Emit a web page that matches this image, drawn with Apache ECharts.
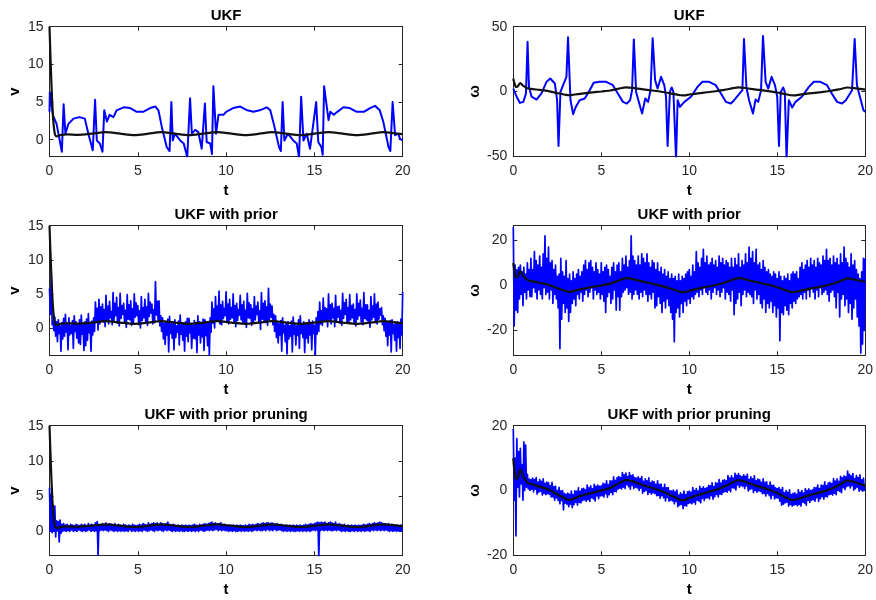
<!DOCTYPE html>
<html>
<head>
<meta charset="utf-8">
<script src="https://cdn.jsdelivr.net/npm/echarts@6/dist/echarts.min.js"></script>
<style>
  html, body { margin: 0; padding: 0; background: #fff; }
  #chart { width: 876px; height: 600px; }
</style>
</head>
<body>
<div id="chart"></div>
<script>
// tick labels
const xTicks = [0, 5, 10, 15, 20];
const vTicks = [0, 5, 10, 15];
const wTicksUkf = [-50, 0, 50];
const wTicksPrior = [-20, 0, 20];

// sample step of the noisy runs (rows 2 and 3)
const dt = 0.05;

// UKF, v (blue)
const tUkfV = [0, 0.02, 0.2, 0.4, 0.7, 0.8, 0.9, 1.07, 1.36, 1.7,
  2.0, 2.2, 2.45, 2.58, 2.68, 2.85, 3.0, 3.1, 3.25, 3.4,
  3.62, 3.8, 4.2, 4.57, 4.94, 5.3, 5.7, 6.0, 6.17, 6.36,
  6.64, 6.8, 6.9, 6.98, 7.1, 7.4, 7.6, 7.8, 7.96, 8.06,
  8.25, 8.43, 8.62, 8.8, 8.9, 9.1, 9.2, 9.28, 9.43, 9.57,
  9.85, 10.0, 10.4, 10.8, 11.2, 11.55, 11.9, 12.3, 12.5, 12.7,
  13.0, 13.1, 13.2, 13.3, 13.5, 13.8, 14.0, 14.13, 14.25, 14.38,
  14.57, 14.75, 15.1, 15.22, 15.4, 15.47, 15.55, 15.8, 15.9, 16.1,
  16.3, 16.64, 17.0, 17.4, 17.8, 18.15, 18.43, 18.7, 18.9, 19.2,
  19.3, 19.43, 19.57, 19.66, 19.75, 19.85, 20.0];
const vUkf = [3.7, 6.3, 3.2, 2.1, -1.6, 4.7, 0.8, 2.1, 2.8, 3.0,
  2.8, 0.8, -1.4, 5.3, -0.1, -0.5, -1.6, 3.9, 2.4, 3.3,
  3.0, 3.9, 4.3, 4.2, 3.7, 3.7, 4.2, 4.4, 3.9, 1.7,
  -1.0, -1.5, 5.0, -0.1, 0.8, -0.1, -0.5, -2.3, 5.5, 0.8,
  1.3, 1.0, -1.2, 4.8, -0.3, -0.5, -1.9, 7.1, 0.8, 3.3,
  3.3, 3.7, 4.2, 4.4, 3.9, 3.7, 3.9, 4.3, 3.9, 2.1,
  -1.0, -1.5, 5.0, -0.1, 0.8, -0.1, -0.5, -2.3, 5.7, -0.1,
  0.8, -1.2, 5.0, -0.3, -1.0, -2.0, 7.1, 2.6, 3.7, 3.3,
  3.7, 4.3, 4.2, 3.7, 3.7, 4.2, 4.5, 3.9, 2.4, -1.0,
  -1.5, 5.0, 0.6, 0.4, 0.8, 0.1, -0.1];

// UKF, omega (blue)
const tUkfW = [0, 0.19, 0.38, 0.57, 0.72, 0.81, 0.89, 1.04, 1.32, 1.6,
  1.89, 2.1, 2.36, 2.49, 2.57, 2.68, 2.87, 3.02, 3.11, 3.25,
  3.4, 3.55, 3.77, 4.06, 4.34, 4.57, 4.9, 5.28, 5.66, 5.94,
  6.23, 6.45, 6.64, 6.75, 6.85, 6.98, 7.13, 7.32, 7.5, 7.66,
  7.8, 7.92, 8.06, 8.2, 8.4, 8.58, 8.68, 8.77, 8.9, 9.0,
  9.1, 9.25, 9.34, 9.47, 9.72, 10.1, 10.47, 10.75, 11.13, 11.5,
  11.8, 12.08, 12.36, 12.55, 13.02, 13.11, 13.25, 13.4, 13.62, 13.77,
  13.92, 14.08, 14.19, 14.34, 14.49, 14.68, 14.87, 15.0, 15.1, 15.2,
  15.34, 15.43, 15.53, 15.66, 15.85, 16.04, 16.4, 16.8, 17.08, 17.45,
  17.83, 18.1, 18.4, 18.68, 18.9, 19.25, 19.4, 19.53, 19.7, 19.9,
  20.0];
const wUkf = [2.3, -4, -8.8, -8, -1.5, 38.4, 3.6, -4, -6.2, -1.5,
  7.5, 10, 6.2, -6.7, -42, -0.3, 6.2, 11.3, 41.8, -6.7,
  -17.5, -11.9, -6.7, -5.4, 1.0, 6.7, 7.5, 7.5, 4.9, -1.5,
  -8.0, -9.3, -6.7, 1.0, 40.2, -0.3, -8.0, -17.0, -5.4, -8,
  1, 41, 8.8, 2.3, 11.3, 4.9, -4, -42, -0.3, 3.1,
  -0.3, -52, -6.7, -11.9, -8, -4, 3.6, 7.5, 7.5, 4.9,
  -1.5, -8, -9.3, -6.7, 1, 40.5, 3.1, -6.7, -17, -6.2,
  -8, 1, 42.8, 7.5, 2.3, 11.3, 4.9, -4, -42, -0.3,
  3.1, -0.3, -52, -6.7, -12.4, -8, -4, 3.6, 7.5, 7.5,
  4.9, -1.5, -8, -9.3, -6.7, 1, 40.5, 4.9, -4, -14.4,
  -15.7];

// UKF with prior, v (blue), one value every dt, one line per second
const vPrior = [
  5.8, 2.0, 8.0, 0.5, 1.0, -0.4, 1.6, -1.2, 0.9, -2.0, 1.2, -0.8, 0.3, -3.4, 0.8, -1.6, 1.4, -1.2, 2.0, -0.6,
  0.7, -3.2, 1.5, -1.0, 0.4, -0.8, 1.1, -3.0, 1.8, -0.5, 0.9, -1.5, 0.6, -2.2, 1.2, -2.4, 1.9, -0.9, 0.5, -3.3,
  0.9, -2.6, 1.3, -1.8, 2.1, -0.7, 0.6, -3.4, 1.0, -1.0, 1.5, -0.5, 3.8, 0.9, 2.9, -0.3, 4.2, 0.6, 3.1, 1.0,
  3.5, 0.9, 2.7, 0.2, 4.8, 1.2, 3.2, 0.6, 3.9, 1.5, 2.4, 0.5, 5.2, 1.1, 3.6, 1.8, 4.5, 0.7, 3.0, 0.3,
  5.1, 1.4, 3.3, 2.0, 3.6, 0.9, 2.6, 0.1, 4.9, 1.3, 3.4, 1.2, 4.0, 0.4, 2.8, 0.6, 5.0, 1.6, 3.7, 1.8,
  3.3, 0.5, 2.5, 0.0, 4.6, 1.1, 3.0, 1.5, 4.2, 0.8, 3.1, 0.4, 5.1, 1.7, 3.8, 2.2, 3.5, 0.6, 2.7, 0.8,
  6.8, 1.9, 3.9, 1.2, 4.0, 0.3, 1.8, -0.5, 1.5, -1.6, 0.7, -2.4, 0.8, -1.0, 1.3, -3.5, 1.7, -0.8, 0.6, -1.5,
  0.9, -3.2, 1.2, -1.4, 0.3, -0.6, 1.0, -2.5, 1.9, -0.9, 0.5, -1.8, 0.7, -3.4, 0.9, -1.2, 1.4, -2.0, 1.4, -0.7,
  0.6, -3.0, 0.4, -1.5, 1.1, -1.6, 0.8, -3.6, 1.8, -1.0, 0.9, -2.2, 0.6, -1.3, 1.3, -3.3, 1.2, -1.1, 0.7, -2.6,
  0.9, -4.0, 1.5, -0.6, 3.8, 0.7, 2.8, 0.0, 4.6, 1.0, 3.2, 1.2, 5.4, 0.6, 3.4, 0.5, 3.9, 1.4, 2.9, 1.8,
  5.3, 1.0, 3.5, 0.6, 4.2, 1.3, 3.0, 1.5, 5.0, 0.9, 3.3, 0.2, 3.6, 1.1, 2.7, 1.9, 4.8, 1.2, 3.4, 0.8,
  3.9, 0.6, 2.6, 0.1, 5.1, 1.5, 3.7, 1.4, 3.4, 0.4, 2.8, 0.7, 4.6, 1.2, 3.2, 2.0, 3.8, 0.9, 2.5, -0.2,
  5.2, 1.3, 3.6, 1.1, 4.0, 0.8, 3.1, 0.4, 5.8, 1.2, 3.5, 1.6, 3.2, 0.5, 2.0, -0.5, 1.8, -1.4, 0.9, -2.2,
  0.6, -1.0, 1.1, -3.4, 1.5, -0.7, 0.4, -2.0, 0.8, -3.8, 0.9, -1.6, 0.3, -1.2, 1.0, -3.5, 1.6, -0.9, 0.5, -2.5,
  0.3, -1.1, 1.2, -3.0, 1.8, -0.8, 0.6, -1.4, 0.9, -3.6, 0.5, -1.5, 0.7, -2.2, 1.2, -1.0, 0.6, -3.2, 1.0, -0.8,
  0.4, -3.9, 1.5, -0.9, 2.4, -0.5, 3.8, 0.6, 2.5, 0.4, 4.4, 1.1, 3.0, 1.0, 2.8, 0.2, 5.0, 1.3, 3.4, 0.6,
  3.6, 1.5, 2.9, 0.2, 4.8, 1.1, 3.1, 1.6, 3.2, 0.7, 2.6, 0.4, 5.1, 1.4, 3.7, 2.0, 4.2, 0.9, 3.0, 0.8,
  4.9, 1.2, 3.3, 1.5, 3.5, 0.6, 2.7, 0.3, 5.0, 1.3, 3.6, 1.8, 4.1, 0.9, 2.9, 0.5, 5.2, 1.4, 3.4, 1.2,
  3.4, 0.7, 2.6, 0.1, 4.6, 1.2, 3.2, 1.6, 5.0, 0.8, 3.5, 0.6, 3.8, 1.3, 2.8, 1.9, 3.0, 0.5, 1.8, -0.4,
  1.4, -1.2, 0.9, -2.6, 0.8, -1.0, 1.1, -3.5, 1.2, -0.8, 0.5, -1.8, 0.7, -3.4, 0.9, -1.4, 0.6, -3.0, 1.3, -1.0,
  5.3];

// UKF with prior, omega (blue)
const wPrior = [
  26, -18, 9, -11, 7, -12, 8, -6, 9, -4, 6, -9, 8, -3, 5, -6, 10, -2, 7, -5,
  12, -5, 7, -1, 15, -3, 11, -6, 9, -2, 13, -4, 8, -6, 14, -1, 22, -4, 12, -3,
  17, -6, 10, -2, 11, -8, 7, -4, 9, -6, 4, -10, 5, -28, 12, -15, 6, -8, 4, -12,
  11, -10, 3, -16, 5, -12, 2, -8, 6, -6, 3, -9, 5, -4, 7, -6, 4, -3, 6, -7,
  9, -4, 11, -2, 7, -5, 10, -3, 11, -1, 8, -6, 6, -2, 10, -4, 7, -3, 5, -6,
  10, -4, 6, -7, 8, -12, 9, -5, 7, -3, 4, -8, 8, -6, 10, -2, 6, -11, 9, -5,
  10, -11, 6, -5, 12, -3, 9, -2, 13, -1, 8, -4, 11, -3, 22, -6, 13, -4, 11, -2,
  9, -4, 13, -6, 9, -3, 14, -5, 12, -2, 10, -4, 14, -7, 10, -4, 8, -6, 11, -3,
  10, -10, 7, -9, 10, -5, 6, -8, 8, -12, 5, -7, 7, -10, 4, -6, 6, -9, 3, -12,
  5, -15, 3, -25, 4, -12, 2, -10, 5, -14, 2, -8, 4, -12, 3, -7, 5, -9, 6, -6,
  7, -8, 4, -5, 9, -6, 6, -4, 15, -3, 10, -5, 8, -2, 12, -4, 16, -1, 10, -3,
  13, -4, 9, -2, 10, -6, 12, -3, 9, -1, 11, -4, 8, -2, 13, -5, 10, -3, 12, -1,
  9, -6, 11, -3, 10, -4, 8, -7, 12, -2, 8, -13, 12, -8, 9, -6, 14, -3, 8, -9,
  11, -4, 9, -2, 14, -5, 10, -3, 17, -4, 12, -5, 15, -8, 10, -2, 16, -6, 9, -4,
  10, -8, 7, -10, 11, -6, 8, -12, 6, -8, 7, -10, 5, -7, 4, -12, 6, -9, 5, -14,
  3, -10, 6, -24.5, 4, -12, 2, -13, 4, -9, 3, -11, 5, -13, 2, -8, 5, -10, 6, -7,
  5, -8, 6, -6, 3, -5, 8, -4, 10, -6, 7, -3, 9, -6, 11, -2, 8, -5, 12, -1,
  9, -3, 11, -6, 8, -2, 12, -5, 10, -1, 9, -4, 13, -3, 11, -2, 16, -4, 11, -7,
  12, -3, 9, -2, 13, -5, 10, -10, 12, -3, 9, -14, 14, -6, 10, -4, 17, -9, 12, -6,
  10, -12, 8, -8, 14, -15, 9, -10, 11, -6, 7, -14, 5, -18, 3, -30, 6, -26, 12, -20,
  12];

// UKF with prior pruning, v (blue)
const vPrune = [
  6.2, 0.0, 5.3, -0.2, 3.7, 0.0, 3.6, -0.8, 1.5, 0.1, 1.4, -1.5, 1.6, -0.3, 1.0, 0.0, 1.1, 0.1, 0.9, 0.0,
  1.0, 0.1, 0.8, 0.0, 1.0, 0.2, 0.9, 0.0, 0.8, 0.1, 1.0, 0.0, 0.9, 0.2, 0.8, 0.1, 1.0, 0.0, 0.9, 0.1,
  1.0, 0.0, 0.8, 0.1, 1.1, 0.2, 0.9, 0.0, 1.0, 0.1, 0.8, 0.0, 1.2, 0.1, 1.4, -3.4, 1.0, 0.1, 0.9, 0.2,
  1.1, 0.1, 1.0, 0.2, 1.2, 0.1, 0.9, 0.0, 1.1, 0.2, 1.0, 0.1, 0.9, 0.0, 1.1, 0.1, 0.8, 0.0, 1.0, 0.1,
  0.9, 0.0, 0.8, 0.1, 1.0, 0.0, 0.9, 0.1, 0.8, 0.0, 0.9, 0.2, 0.8, 0.0, 1.0, 0.1, 0.9, 0.0, 0.8, 0.1,
  0.9, 0.0, 1.0, 0.1, 0.9, 0.0, 1.1, 0.2, 1.0, 0.1, 0.9, 0.0, 1.2, 0.1, 1.0, 0.2, 1.1, 0.1, 1.2, 0.0,
  1.1, 0.2, 1.2, 0.1, 1.0, 0.2, 1.2, 0.1, 1.1, 0.0, 1.0, 0.2, 1.1, 0.1, 1.3, 0.2, 1.0, 0.1, 0.9, 0.0,
  1.0, 0.1, 0.9, 0.0, 0.8, 0.1, 0.9, 0.0, 0.8, 0.1, 0.9, 0.0, 0.8, 0.0, 0.9, 0.1, 0.8, 0.0, 0.9, 0.1,
  0.8, 0.0, 0.9, 0.1, 1.0, 0.0, 0.9, 0.1, 0.8, 0.0, 1.0, 0.2, 0.9, 0.1, 1.0, 0.0, 1.1, 0.1, 1.0, 0.2,
  1.1, 0.1, 1.2, 0.2, 1.3, 0.1, 1.1, 0.2, 1.2, 0.3, 1.0, 0.1, 1.1, 0.2, 1.2, 0.1, 0.9, 0.2, 1.0, 0.1,
  0.9, 0.1, 0.8, 0.0, 0.9, 0.1, 0.8, 0.0, 0.9, 0.1, 0.8, 0.0, 0.9, 0.0, 0.8, 0.1, 0.9, 0.0, 0.8, 0.1,
  0.8, 0.0, 0.9, 0.1, 0.8, 0.0, 1.0, 0.1, 0.9, 0.0, 1.0, 0.1, 0.9, 0.2, 1.0, 0.1, 1.1, 0.2, 1.0, 0.1,
  1.1, 0.1, 1.2, 0.2, 1.1, 0.1, 1.2, 0.3, 1.2, 0.1, 1.1, 0.2, 1.2, 0.1, 1.1, 0.3, 1.0, 0.1, 1.1, 0.2,
  0.9, 0.2, 1.0, 0.1, 0.9, 0.0, 0.8, 0.1, 0.9, 0.0, 0.8, 0.1, 0.9, 0.0, 0.8, 0.1, 0.9, 0.0, 0.8, 0.0,
  0.9, 0.1, 0.8, 0.0, 0.9, 0.1, 0.8, 0.0, 0.9, 0.1, 1.0, 0.0, 0.9, 0.1, 1.0, 0.0, 1.1, 0.1, 1.0, 0.2,
  1.1, 0.1, 1.2, 0.2, 1.3, -3.6, 1.2, 0.1, 1.3, 0.2, 1.2, 0.1, 1.3, 0.2, 1.1, 0.1, 1.2, 0.2, 1.3, 0.1,
  1.2, 0.1, 1.1, 0.2, 1.3, 0.1, 1.0, 0.2, 1.1, 0.1, 1.0, 0.0, 0.9, 0.1, 1.0, 0.0, 0.8, 0.1, 0.9, 0.0,
  0.8, 0.0, 0.9, 0.1, 0.8, 0.0, 0.9, 0.1, 0.8, 0.0, 0.9, 0.1, 0.8, 0.0, 0.9, 0.1, 1.0, 0.0, 0.9, 0.1,
  1.0, 0.1, 1.1, 0.0, 1.0, 0.2, 1.1, 0.1, 1.2, 0.2, 1.1, 0.1, 1.2, 0.2, 1.3, 0.1, 1.2, 0.2, 1.1, 0.1,
  1.1, 0.2, 1.0, 0.1, 1.1, 0.0, 0.9, 0.1, 1.0, 0.0, 0.9, 0.1, 0.8, 0.0, 0.9, 0.1, 0.8, 0.0, 0.9, 0.1,
  0.2];

// UKF with prior pruning, omega (blue)
const wPrune = [
  19, -3, 10, -14, 16, 1, 12, -2, 13, 2, 8, -3, 15, 0, 14, 1, 5, 0.5, 3.5, 0,
  3.4, 0.4, 3.8, -0.4, 3.4, 0.4, 4.0, -1.1, 2.6, -0.5, 3.4, -0.2, 2.8, -1.4, 3.6, -0.9, 2.2, -1.3, 2.6, -1.0,
  2.4, -1.2, 1.5, -2.0, 2.5, -2.0, 1.2, -3.0, 1.3, -2.3, 0.0, -3.1, 1.0, -4.1, -0.1, -3.1, 0.0, -6.0, -0.9, -3.9,
  -1.2, -4.2, -0.8, -5.0, -1.2, -4.2, -0.2, -5.3, -1.3, -4.4, -0.1, -3.7, -0.3, -4.5, 0.8, -3.7, -0.3, -3.8, 0.5, -3.1,
  0.7, -2.9, 0.2, -3.3, 1.7, -2.8, 0.8, -3.4, 1.4, -2.2, 0.5, -2.6, 1.9, -3.2, 1.3, -1.7, 1.7, -2.5, 1.3, -1.7,
  1.4, -1.6, 2.2, -2.0, 2.0, -1.0, 3.0, -2.1, 1.8, -1.3, 3.0, -0.6, 2.9, -1.3, 4.2, -0.3, 3.1, -0.4, 4.0, 0.4,
  4.3, 0.7, 4.0, 0.5, 5.5, 1.0, 4.8, 0.6, 5.4, 1.8, 4.3, 1.2, 5.5, 0.4, 4.6, 1.6, 4.8, 0.6, 4.0, 1.0,
  3.8, 0.8, 4.2, 0.0, 3.7, 0.7, 4.3, -0.8, 2.8, -0.3, 3.6, 0.0, 3.0, -1.2, 3.9, -0.6, 2.4, -1.1, 2.9, -0.7,
  2.7, -0.9, 1.9, -1.6, 3.0, -1.5, 1.8, -2.4, 2.0, -1.6, 0.8, -2.3, 1.9, -3.2, 0.8, -2.2, 0.9, -3.3, 0.0, -3.0,
  -0.2, -3.2, 0.1, -4.1, -0.4, -3.4, 0.1, -5.0, -1.4, -4.5, -0.7, -4.3, -1.2, -5.6, -0.2, -4.7, -1.3, -4.8, -0.4, -4.0,
  -0.2, -3.8, -0.6, -4.1, 0.9, -3.6, 0.0, -4.2, 0.6, -3.0, -0.2, -3.3, 1.3, -3.8, 0.6, -2.4, 1.1, -3.1, 0.6, -2.4,
  0.8, -2.2, 1.6, -2.6, 1.4, -1.6, 2.4, -2.7, 1.2, -1.9, 2.4, -1.2, 2.2, -2.0, 3.4, -1.1, 2.3, -1.2, 3.1, -0.5,
  3.3, -0.3, 3.0, -0.5, 4.6, 0.1, 3.8, -0.4, 4.5, 0.9, 3.8, 0.7, 5.3, 0.2, 4.7, 1.7, 5.2, 1.0, 4.5, 1.5,
  4.3, 1.3, 4.8, 0.6, 4.4, 1.4, 5.0, -0.1, 3.4, 0.3, 4.2, 0.6, 3.6, -0.6, 4.5, 0.0, 3.0, -0.5, 3.5, -0.1,
  3.3, -0.3, 2.5, -1.0, 3.6, -0.9, 2.5, -1.7, 2.7, -0.9, 1.5, -1.6, 2.6, -2.5, 1.6, -1.4, 1.6, -2.6, 0.8, -2.2,
  0.6, -2.4, 0.9, -3.3, 0.3, -4.5, 0.9, -4.2, -0.7, -3.8, 0.0, -3.6, -0.6, -4.8, 0.2, -4.3, -1.3, -4.8, -0.9, -4.5,
  -0.7, -4.3, -1.2, -4.7, 0.2, -4.3, -0.6, -4.8, 0.0, -3.6, -0.8, -3.9, 0.6, -4.5, 0.0, -3.0, 0.5, -3.7, 0.0, -3.0,
  0.2, -2.8, 0.9, -3.3, 0.8, -2.2, 1.7, -3.4, 0.6, -2.5, 1.7, -1.9, 1.5, -2.7, 2.7, -1.8, 1.5, -2.0, 2.3, -1.3,
  2.5, -1.1, 2.1, -1.4, 3.7, -0.8, 2.9, -1.3, 3.6, 0.0, 2.8, -0.3, 4.4, -0.7, 3.9, 0.9, 4.5, 0.3, 4.2, 1.2,
  6.0, 1.5, 5.0, 0.8, 4.5, 1.5, 5.2, 0.1, 3.7, 0.6, 4.6, 1.0, 4.0, -0.2, 4.8, 0.3, 3.3, -0.2, 3.8, 0.2,
  0.6];

// black curves (same in every row)
const tTrueV = [0, 0.1, 0.2, 0.3, 0.4, 0.6, 1.0, 1.6,
  2.4, 3.2, 4.0, 4.8, 5.6, 6.3, 7.1, 7.9, 8.7, 9.5,
  10.3, 11.1, 11.9, 12.6, 13.4, 14.2, 15.0, 15.8, 16.6, 17.4,
  18.2, 18.9, 19.7, 20.0];
const vTrue = [15, 8, 3, 0.8, 0.45, 0.6, 0.7, 0.65,
  0.8, 1.0, 0.8, 0.62, 0.8, 1.0, 0.8, 0.62, 0.8, 1.0,
  0.8, 0.62, 0.8, 1.0, 0.8, 0.62, 0.8, 1.0, 0.8, 0.62,
  0.8, 1.0, 0.8, 0.75];
const tTrueW = [0, 0.05, 0.15, 0.25, 0.4, 0.55, 0.8, 1.0,
  1.5, 2.0, 2.5, 3.0, 3.2, 3.5, 4.0, 4.5, 5.0, 5.5,
  6.0, 6.4, 6.8, 7.5, 8.0, 8.5, 9.0, 9.5, 9.7, 10.0,
  10.5, 11.0, 11.5, 12.0, 12.5, 12.8, 13.2, 13.5, 14.0, 14.5,
  15.0, 15.5, 15.9, 16.3, 16.8, 17.5, 18.0, 18.5, 19.0, 19.5,
  20.0];
const wTrue = [10, 7, 3.5, 4, 6.5, 4.5, 2.5, 2,
  1.2, 0.3, -1.2, -2.6, -2.9, -2.3, -1.4, -0.7, 0, 0.8,
  2.2, 3.2, 2.8, 1.4, 0.6, -0.4, -1.6, -2.9, -3.0, -2.3,
  -1.4, -0.6, 0.2, 1.2, 2.6, 3.2, 2.7, 2.0, 1.2, 0.3,
  -0.8, -2.2, -3.0, -2.4, -1.5, -0.5, 0.4, 1.6, 3.1, 2.4,
  1.5];

function zip(t, y) {
  return t.map((x, i) => [x, y[i]]);
}
function sampled(y) {
  return y.map((v, i) => [+(i * dt).toFixed(3), v]);
}

const colLeft = [49.5, 513.3];
const rowTop = [26.7, 225.7, 425.7];
const boxW = 353.2;
const boxH = 129.6;

const panels = [
  { title: 'UKF', col: 0, row: 0, yName: 'v', min: -2.2, max: 15, ticks: vTicks,
    blue: zip(tUkfV, vUkf), blueW: 2, black: zip(tTrueV, vTrue) },
  { title: 'UKF', col: 1, row: 0, yName: 'ω', min: -50, max: 50, ticks: wTicksUkf,
    blue: zip(tUkfW, wUkf), blueW: 2, black: zip(tTrueW, wTrue) },
  { title: 'UKF with prior', col: 0, row: 1, yName: 'v', min: -4, max: 15, ticks: vTicks,
    blue: sampled(vPrior), blueW: 1.7, black: zip(tTrueV, vTrue) },
  { title: 'UKF with prior', col: 1, row: 1, yName: 'ω', min: -31, max: 26.5, ticks: wTicksPrior,
    blue: sampled(wPrior), blueW: 1.7, black: zip(tTrueW, wTrue) },
  { title: 'UKF with prior pruning', col: 0, row: 2, yName: 'v', min: -3.4, max: 15, ticks: vTicks,
    blue: sampled(vPrune), blueW: 1.7, black: zip(tTrueV, vTrue) },
  { title: 'UKF with prior pruning', col: 1, row: 2, yName: 'ω', min: -20, max: 20, ticks: wTicksPrior,
    blue: sampled(wPrune), blueW: 1.7, black: zip(tTrueW, wTrue) }
];

const axisColor = '#262626';
const font = 'Liberation Sans, Arial, Helvetica, sans-serif';
const grid = [], xAxis = [], yAxis = [], series = [];

panels.forEach((p, i) => {
  grid.push({ left: colLeft[p.col], top: rowTop[p.row], width: boxW, height: boxH });
  // bottom axis with t
  xAxis.push({
    gridIndex: i, type: 'value', min: 0, max: 20, position: 'bottom',
    name: 't', nameLocation: 'middle', nameGap: 27,
    nameTextStyle: { fontFamily: font, fontSize: 15, fontWeight: 'bold', color: '#000' },
    axisLine: { onZero: false, lineStyle: { color: axisColor, width: 1 } },
    axisTick: { inside: true, length: 4, lineStyle: { color: axisColor }, customValues: xTicks },
    axisLabel: { margin: 8, fontFamily: font, fontSize: 14, color: axisColor, customValues: xTicks },
    splitLine: { show: false }
  });
  // top axis carries the title
  xAxis.push({
    gridIndex: i, type: 'value', min: 0, max: 20, position: 'top',
    name: p.title, nameLocation: 'middle', nameGap: 3,
    nameTextStyle: { fontFamily: font, fontSize: 15, fontWeight: 'bold', color: '#000' },
    axisLine: { onZero: false, lineStyle: { color: axisColor, width: 1 } },
    axisTick: { inside: true, length: 4, lineStyle: { color: axisColor }, customValues: xTicks },
    axisLabel: { show: false },
    splitLine: { show: false }
  });
  yAxis.push({
    gridIndex: i, type: 'value', min: p.min, max: p.max, position: 'left',
    name: p.yName, nameLocation: 'middle', nameGap: p.col === 0 ? 27 : 31,
    nameTextStyle: { fontFamily: font, fontSize: 15, fontWeight: 'bold', color: '#000' },
    axisLine: { onZero: false, show: true, lineStyle: { color: axisColor, width: 1 } },
    axisTick: { show: true, inside: true, length: 4, lineStyle: { color: axisColor }, customValues: p.ticks },
    axisLabel: { margin: 6, fontFamily: font, fontSize: 14, color: axisColor, customValues: p.ticks },
    splitLine: { show: false }
  });
  yAxis.push({
    gridIndex: i, type: 'value', min: p.min, max: p.max, position: 'right',
    axisLine: { onZero: false, show: true, lineStyle: { color: axisColor, width: 1 } },
    axisTick: { show: true, inside: true, length: 4, lineStyle: { color: axisColor }, customValues: p.ticks },
    axisLabel: { show: false },
    splitLine: { show: false }
  });
  series.push({
    type: 'line', xAxisIndex: 2 * i, yAxisIndex: 2 * i, data: p.blue,
    showSymbol: false, animation: false, clip: true,
    lineStyle: { color: '#0000ff', width: p.blueW, join: 'round' }
  });
  series.push({
    type: 'line', xAxisIndex: 2 * i, yAxisIndex: 2 * i, data: p.black,
    showSymbol: false, animation: false, clip: true, smooth: 0.25,
    lineStyle: { color: '#111', width: 2.2 }
  });
});

const chart = echarts.init(document.getElementById('chart'), null, { renderer: 'canvas' });
chart.setOption({
  backgroundColor: '#fff',
  animation: false,
  grid: grid,
  xAxis: xAxis,
  yAxis: yAxis,
  series: series
});
</script>
</body>
</html>
